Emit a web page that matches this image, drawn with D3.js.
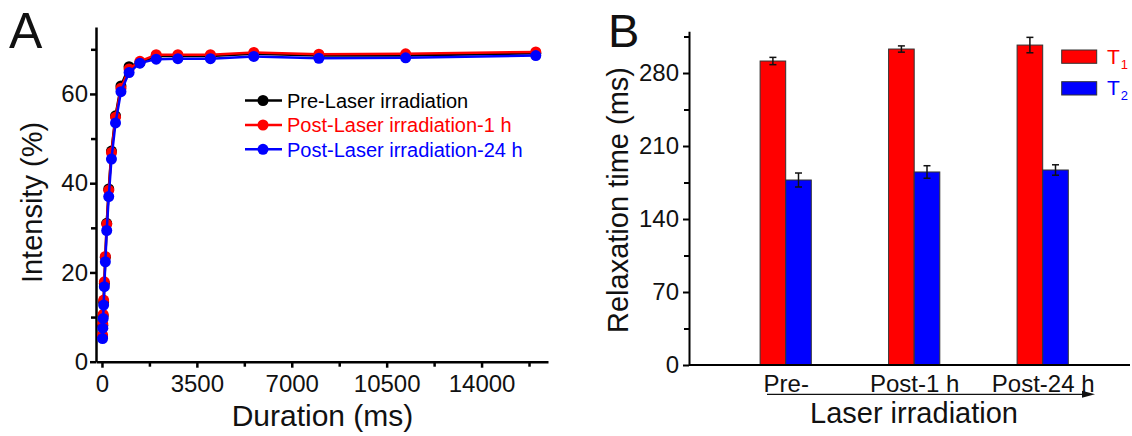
<!DOCTYPE html>
<html><head><meta charset="utf-8">
<script src="https://cdn.jsdelivr.net/npm/d3@7"></script>
<style>
html,body{margin:0;padding:0;background:#fff;}
svg{display:block;font-family:"Liberation Sans",Arial,sans-serif;}
</style></head>
<body>
<svg id="chart" width="1132" height="436"></svg>
<script>
// ---- Panel A data ----
const durations = [22, 31, 44, 62, 88, 125, 175, 250, 350, 500, 700, 1000, 1400, 2000, 2800, 4000, 5600, 8000, 11200, 16000];
const preLaser   = [5.6, 8.1, 10.3, 13.4, 17.5, 23.4, 31.0, 38.7, 47.2, 55.1, 61.8, 66.1, 67.0, 68.5, 68.5, 68.5, 69.0, 68.6, 68.6, 69.1];
const post1h     = [6.0, 8.5, 10.6, 13.8, 17.9, 23.6, 30.8, 38.4, 46.9, 54.8, 61.3, 65.6, 67.3, 68.8, 68.8, 68.8, 69.3, 68.9, 69.0, 69.4];
const post24h    = [5.2, 7.5, 9.7, 12.7, 16.8, 22.4, 29.4, 37.0, 45.4, 53.5, 60.5, 64.8, 66.9, 67.8, 67.9, 67.9, 68.4, 68.0, 68.1, 68.6];
const seriesNamesA = ["Pre-Laser irradiation", "Post-Laser irradiation-1 h", "Post-Laser irradiation-24 h"];
const xTicksA = [0, 3500, 7000, 10500, 14000];
const xMinorA = [1750, 5250, 8750, 12250, 15750];
const yTicksA = [0, 20, 40, 60];
const yMinorA = [10, 30, 50, 70];

// ---- Panel B data ----
const groupsB = ["Pre-", "Post-1 h", "Post-24 h"];
const t1Values = [291.5, 303.0, 306.8];
const t1Errors = [3.5, 3.0, 7.4];
const t2Values = [177.4, 185.1, 187.0];
const t2Errors = [6.7, 6.0, 5.0];
const yTicksB = [0, 70, 140, 210, 280];
const yMinorB = [35, 105, 175, 245, 315];

const svg = d3.select("#chart");
svg.append("rect").attr("width",1132).attr("height",436).attr("fill","#fff");

// ================= Panel A =================
const xA = d3.scaleLinear().domain([-220, 16450]).range([96, 548]);
const yA = d3.scaleLinear().domain([0, 75]).range([361.7, 27]);
const gA = svg.append("g");

function styleAxis(g, fs, sw){
  g.select(".domain").attr("stroke","#000").attr("stroke-width",sw);
  g.selectAll(".tick line").attr("stroke","#000").attr("stroke-width",sw);
  g.selectAll(".tick text").attr("fill","#111").style("font-size",fs+"px")
    .style("font-family",'"Liberation Sans",Arial,sans-serif');
}

// minor ticks
gA.append("g").attr("transform","translate(0,361.7)")
  .call(d3.axisBottom(xA).tickValues(xMinorA).tickSize(5).tickSizeOuter(0).tickFormat(""))
  .call(g=>{g.select(".domain").remove(); g.selectAll(".tick line").attr("stroke","#000").attr("stroke-width",2.5);});
gA.append("g").attr("transform","translate(96,0)")
  .call(d3.axisLeft(yA).tickValues(yMinorA).tickSize(5).tickSizeOuter(0).tickFormat(""))
  .call(g=>{g.select(".domain").remove(); g.selectAll(".tick line").attr("stroke","#000").attr("stroke-width",2.5);});

const xAxisA = gA.append("g").attr("transform","translate(0,361.7)")
  .call(d3.axisBottom(xA).tickValues(xTicksA).tickSize(6).tickSizeOuter(0).tickPadding(7).tickFormat(d3.format("d")));
styleAxis(xAxisA, 24, 2.5);
const yAxisA = gA.append("g").attr("transform","translate(96,0)")
  .call(d3.axisLeft(yA).tickValues(yTicksA).tickSize(6).tickSizeOuter(0).tickPadding(2));
styleAxis(yAxisA, 24, 2.5);

const seriesA = [
  {name: seriesNamesA[0], vals: preLaser, color:"#000000"},
  {name: seriesNamesA[1], vals: post1h, color:"#ff0000"},
  {name: seriesNamesA[2], vals: post24h, color:"#0000ff"}
];
const line = d3.line().x(d=>xA(d[0])).y(d=>yA(d[1]));
seriesA.forEach(s=>{
  const pts = durations.map((d,i)=>[d, s.vals[i]]);
  gA.append("path").datum(pts).attr("d",line).attr("fill","none")
    .attr("stroke",s.color).attr("stroke-width",2.5);
  gA.selectAll(null).data(pts).enter().append("circle")
    .attr("cx",d=>xA(d[0])).attr("cy",d=>yA(d[1])).attr("r",5.5).attr("fill",s.color);
});

// legend A
const legRowsA = [100.5, 125, 149.3];
seriesA.forEach((s,i)=>{
  const y = legRowsA[i];
  gA.append("line").attr("x1",245).attr("x2",282).attr("y1",y).attr("y2",y)
    .attr("stroke",s.color).attr("stroke-width",2.5);
  gA.append("circle").attr("cx",263).attr("cy",y).attr("r",5.5).attr("fill",s.color);
  gA.append("text").attr("x",287).attr("y",y+7.3).attr("fill",s.color)
    .style("font-size","20px").text(s.name);
});

gA.append("text").attr("x",9).attr("y",48).style("font-size","50px").attr("fill","#111").text("A");
gA.append("text").attr("transform","translate(42,202.5) rotate(-90)").attr("text-anchor","middle")
  .style("font-size","29px").attr("fill","#111").text("Intensity (%)");
gA.append("text").attr("x",322.5).attr("y",426).attr("text-anchor","middle")
  .style("font-size","30px").attr("fill","#111").text("Duration (ms)");

// ================= Panel B =================
const xB = d3.scalePoint().domain(groupsB).range([785.7, 1042.7]);
const yB = d3.scaleLinear().domain([0, 320]).range([365, 31.3]);
const barW = 25.6;
const gB = svg.append("g");

gB.append("g").attr("transform","translate(689,0)")
  .call(d3.axisLeft(yB).tickValues(yMinorB).tickSize(5).tickSizeOuter(0).tickFormat(""))
  .call(g=>{g.select(".domain").remove(); g.selectAll(".tick line").attr("stroke","#000").attr("stroke-width",2);});
const yAxisB = gB.append("g").attr("transform","translate(689,0)")
  .call(d3.axisLeft(yB).tickValues(yTicksB).tickSize(6).tickSizeOuter(0).tickPadding(4));
styleAxis(yAxisB, 24, 2);

// bars
const barsData = [];
groupsB.forEach((g,i)=>{
  barsData.push({g, v:t1Values[i], e:t1Errors[i], off:-barW, color:"#ff0000"});
  barsData.push({g, v:t2Values[i], e:t2Errors[i], off:0, color:"#0000ff"});
});
gB.selectAll(".bar").data(barsData).enter().append("rect")
  .attr("x",d=>xB(d.g)+d.off).attr("y",d=>yB(d.v))
  .attr("width",barW).attr("height",d=>yB(0)-yB(d.v))
  .attr("fill",d=>d.color).attr("stroke","#333").attr("stroke-width",1);
// error bars
barsData.forEach(d=>{
  const cx = xB(d.g)+d.off+barW/2;
  const y1 = yB(d.v+d.e), y2 = yB(d.v-d.e);
  gB.append("line").attr("x1",cx).attr("x2",cx).attr("y1",y1).attr("y2",y2).attr("stroke","#111").attr("stroke-width",1.5);
  [y1,y2].forEach(yy=>gB.append("line").attr("x1",cx-3.5).attr("x2",cx+3.5).attr("y1",yy).attr("y2",yy)
    .attr("stroke","#111").attr("stroke-width",1.5));
});

// x axis B (line only)
const xAxisB = gB.append("g").attr("transform","translate(0,365)")
  .call(d3.axisBottom(xB).tickSize(0).tickSizeOuter(0).tickPadding(10));
xAxisB.select(".domain").attr("d","M689,0H1130").attr("stroke","#000").attr("stroke-width",2);
xAxisB.selectAll(".tick text").attr("fill","#111").attr("dy","0").attr("y",26.7)
  .style("font-size","24px").style("font-family",'"Liberation Sans",Arial,sans-serif');

// arrow
gB.append("line").attr("x1",767).attr("x2",1084).attr("y1",394.3).attr("y2",394.3)
  .attr("stroke","#111").attr("stroke-width",1.3);
gB.append("path").attr("d","M1082,390.8L1095,394.3L1082,397.8Z").attr("fill","#111");

gB.append("text").attr("x",914).attr("y",423).attr("text-anchor","middle")
  .style("font-size","29px").attr("fill","#111").text("Laser irradiation");
gB.append("text").attr("transform","translate(628,200) rotate(-90)").attr("text-anchor","middle")
  .style("font-size","29px").attr("fill","#111").text("Relaxation time (ms)");
gB.append("text").attr("x",608).attr("y",47).style("font-size","47px").attr("fill","#111").text("B");

// legend B
const legB = [{lab:"T", sub:"1", color:"#ff0000", y:50}, {lab:"T", sub:"2", color:"#0000ff", y:81.7}];
legB.forEach(l=>{
  gB.append("rect").attr("x",1061.7).attr("y",l.y).attr("width",35).attr("height",13.3)
    .attr("fill",l.color).attr("stroke","#333").attr("stroke-width",1);
  const t = gB.append("text").attr("x",1107).attr("y",l.y+13.5).attr("fill",l.color).style("font-size","21px");
  t.append("tspan").text(l.lab);
  t.append("tspan").attr("dx",1).attr("dy",5).style("font-size","13px").text(l.sub);
});
</script>
</body></html>
